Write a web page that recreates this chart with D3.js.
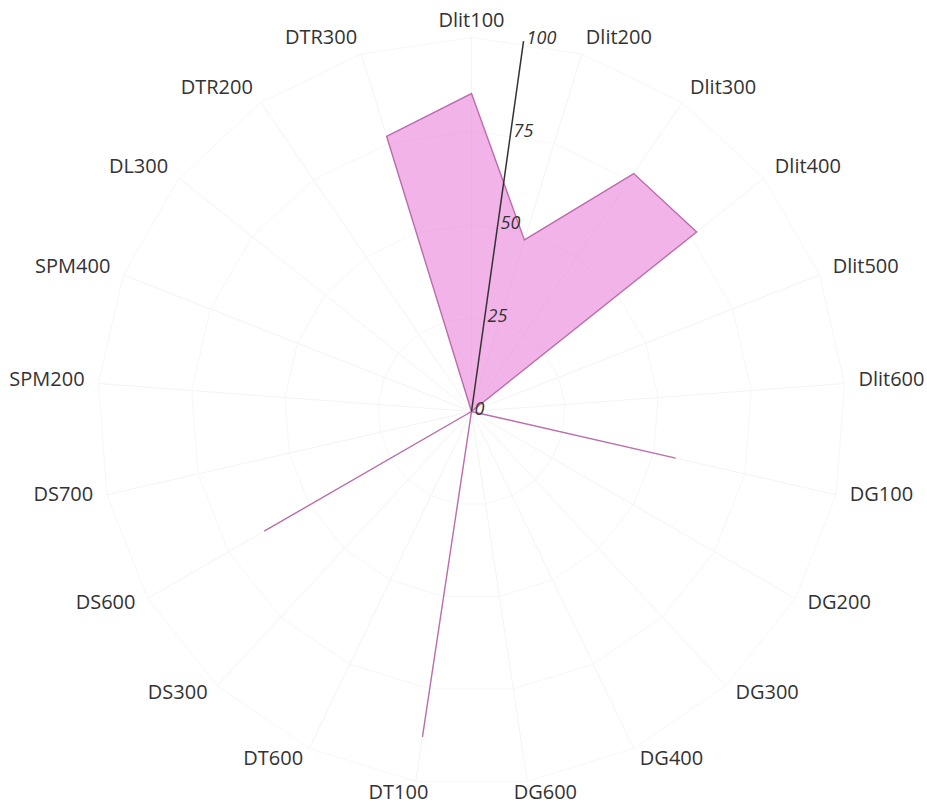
<!DOCTYPE html>
<html>
<head>
<meta charset="utf-8">
<script src="https://cdn.jsdelivr.net/npm/d3@7"></script>
<style>
  html, body { margin: 0; padding: 0; background: #fff; }
  svg { display: block; }
</style>
</head>
<body>
<svg id="chart" width="927" height="808"></svg>
<script>
// ---- data ----
const categories = ["Dlit100","Dlit200","Dlit300","Dlit400","Dlit500","Dlit600",
  "DG100","DG200","DG300","DG400","DG600","DT100","DT600","DS300","DS600","DS700",
  "SPM200","SPM400","DL300","DTR200","DTR300"];
const values = [85, 48, 77, 77, 0, 0, 56, 0, 0, 0, 0, 88, 0, 0, 64, 0, 0, 0, 0, 0, 77];
const radialTicks = [0, 25, 50, 75, 100];

// ---- layout ----
const W = 927, H = 808;
const cx = 471.5, cy = 411.5;
const outerR = 374;
const labelR = 388;
const axisAngleDeg = 8;

const svg = d3.select("#chart");
const g = svg.append("g").attr("transform", `translate(${cx},${cy})`);

const step = 2 * Math.PI / categories.length;
const ang = c => categories.indexOf(c) * step;
const r = d3.scaleLinear().domain([0, 100]).range([0, outerR]);

// grid (very faint)
const grid = g.append("g").attr("class", "grid");
grid.selectAll("line.spoke").data(categories).join("line")
  .attr("class", "spoke")
  .attr("x1", 0).attr("y1", 0)
  .attr("x2", c => r(100) * Math.sin(ang(c)))
  .attr("y2", c => -r(100) * Math.cos(ang(c)))
  .attr("stroke", "#f4f4f4").attr("stroke-width", 1);
grid.selectAll("path.ring").data(radialTicks.filter(t => t > 0)).join("path")
  .attr("class", "ring")
  .attr("d", t => d3.lineRadial().angle(c => ang(c)).radius(() => r(t)).curve(d3.curveLinearClosed)(categories))
  .attr("fill", "none")
  .attr("stroke", "#f7f7f7").attr("stroke-width", 1);

// data area
const area = d3.lineRadial()
  .angle((d, i) => ang(categories[i]))
  .radius(d => r(d))
  .curve(d3.curveLinearClosed);
g.append("path")
  .datum(values)
  .attr("d", area)
  .attr("fill", "rgba(232,128,216,0.6)")
  .attr("stroke", "#bb6eab")
  .attr("stroke-width", 1.4)
  .attr("stroke-linejoin", "miter");

// radial axis
const a0 = axisAngleDeg * Math.PI / 180;
const axis = g.append("g").attr("class", "raxis");
axis.append("line")
  .attr("x1", 0).attr("y1", 0)
  .attr("x2", r(100) * Math.sin(a0)).attr("y2", -r(100) * Math.cos(a0))
  .attr("stroke", "#333").attr("stroke-width", 1.5);
axis.selectAll("text").data(radialTicks).join("text")
  .attr("x", t => r(t) * Math.sin(a0) + 3)
  .attr("y", t => -r(t) * Math.cos(a0) + 3)
  .attr("font-family", "'Open Sans', sans-serif")
  .attr("font-size", 18)
  .attr("font-style", "italic")
  .attr("fill", "#333")
  .text(t => t);

// category labels
const lbl = g.append("g").attr("class", "labels");
lbl.selectAll("text").data(categories).join("text")
  .attr("font-family", "'Open Sans', sans-serif")
  .attr("font-size", 20)
  .attr("fill", "#333")
  .attr("text-anchor", "middle")
  .attr("dominant-baseline", "central")
  .text(c => c)
  .each(function(c) {
    const a = ang(c);
    const w = this.getComputedTextLength();
    const s = Math.sin(a), co = Math.cos(a);
    const k = Math.max(-1, Math.min(1, s * 3.4));
    d3.select(this)
      .attr("x", labelR * s + k * w / 2)
      .attr("y", -labelR * co - 4);
  });
</script>
</body>
</html>
